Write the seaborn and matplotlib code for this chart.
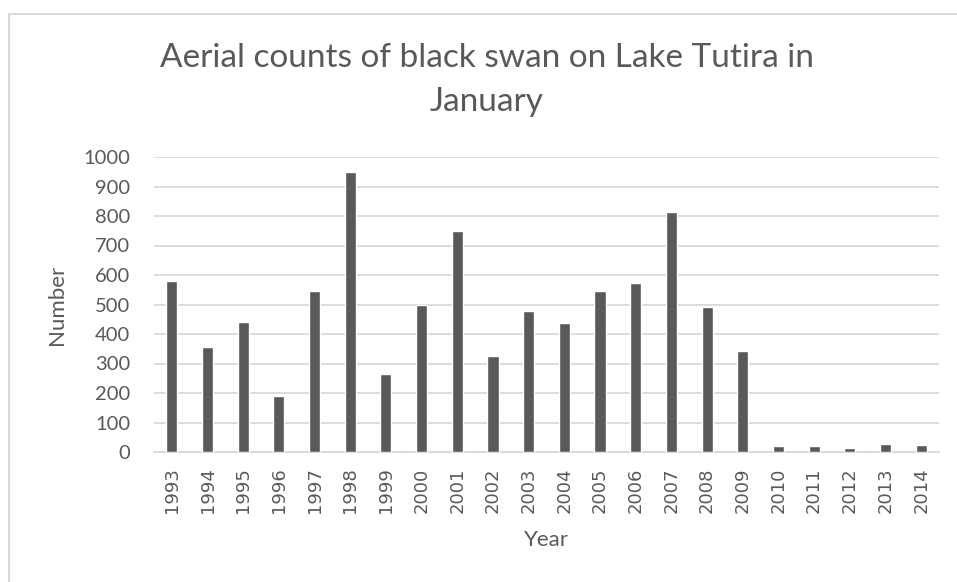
import matplotlib
matplotlib.use("Agg")
import matplotlib.pyplot as plt
from matplotlib.patches import Rectangle
import seaborn as sns
import pandas as pd

years = [str(y) for y in range(1993, 2015)]
counts = [580, 357, 440, 189, 547, 948, 265, 498, 749, 327, 478,
          437, 547, 572, 813, 492, 343, 19, 19, 14, 28, 24]
y_ticks = list(range(0, 1001, 100))

title = "Aerial counts of black swan on Lake Tutira in\nJanuary"
x_label = "Year"
y_label = "Number"

bar_color = "#595959"
text_color = "#595959"
grid_color = "#d9d9d9"

sns.set_theme(style="white")
plt.rcParams["font.family"] = ["Lato", "DejaVu Sans"]

df = pd.DataFrame({"Year": years, "Number": counts})

fig = plt.figure(figsize=(9.57, 5.82), dpi=100)
W, H = 957, 582
ax = fig.add_axes([154 / W, 1 - 452 / H, (939 - 154) / W, (452 - 157) / H])

# chart-area frame
fig.patches.append(Rectangle((9 / W, -0.05), 1.1, 1 - 14 / H + 0.05,
                             transform=fig.transFigure, fill=False,
                             edgecolor=grid_color, linewidth=1.5))

sns.barplot(data=df, x="Year", y="Number", color=bar_color, saturation=1,
            width=0.31, ax=ax, zorder=3)

ax.set_ylim(0, 1000)
ax.set_yticks(y_ticks, [str(t) for t in y_ticks])
ax.set_xticks(range(len(years)), years)
ax.tick_params(axis="x", length=0, pad=11, labelrotation=90, labelsize=13,
               labelfontfamily="DejaVu Sans", labelcolor=text_color)
ax.tick_params(axis="y", length=0, pad=17, labelsize=14.5, labelcolor=text_color)
ax.set_xlim(-0.5, len(years) - 0.5)

ax.yaxis.grid(True, color=grid_color, linewidth=1.3, zorder=0)
ax.set_axisbelow(True)
for s in ["top", "right", "left"]:
    ax.spines[s].set_visible(False)
ax.spines["bottom"].set_color(grid_color)
ax.spines["bottom"].set_linewidth(1.3)

ax.set_xlabel(x_label, fontsize=16, color=text_color, labelpad=12)
ax.set_ylabel(y_label, fontsize=16, color=text_color, labelpad=12)

fig.text(487 / W, 1 - 43 / H, title, ha="center", va="top",
         fontsize=24, color=text_color, linespacing=1.6)

fig.savefig("out.png", dpi=100, facecolor="white")
